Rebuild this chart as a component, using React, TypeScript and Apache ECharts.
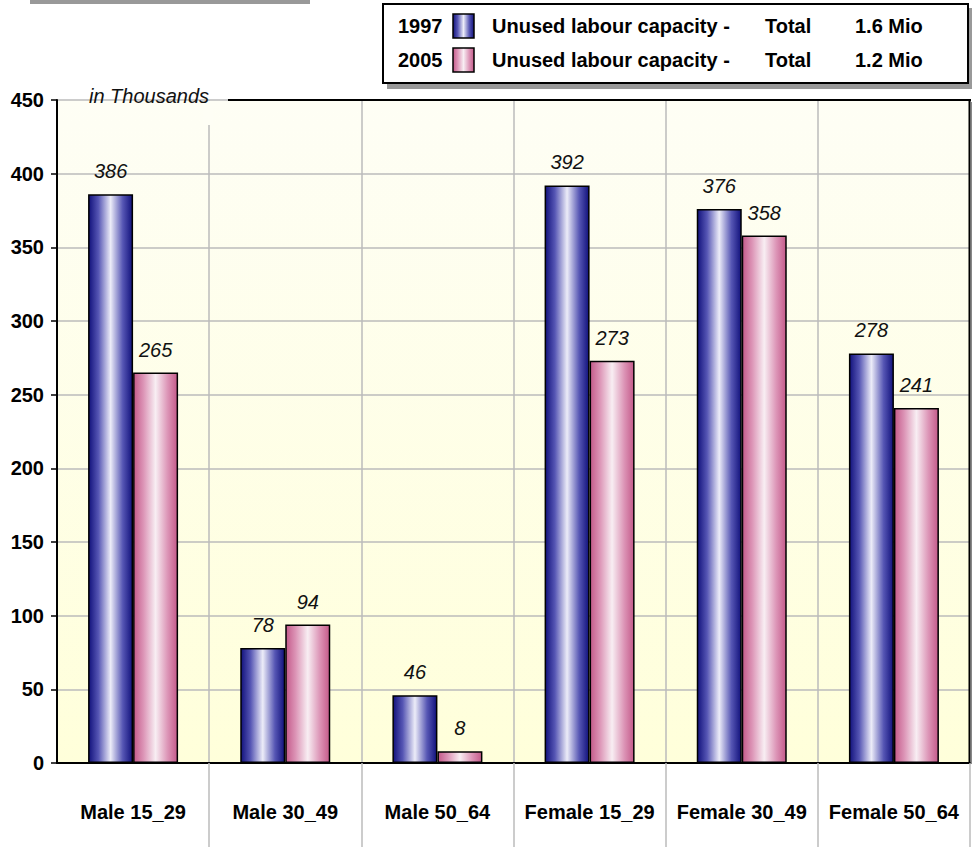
import React, { useEffect, useRef } from "react";
import * as echarts from "echarts";

const categories = ["Male 15_29", "Male 30_49", "Male 50_64", "Female 15_29", "Female 30_49", "Female 50_64"];
const values1997 = [386, 78, 46, 392, 376, 278];
const values2005 = [265, 94, 8, 273, 358, 241];
const legendYears = ["1997", "2005"];
const legendTotals = ["1.6 Mio", "1.2 Mio"];
const legendText = "Unused labour capacity -";
const yMin = 0;
const yMax = 450;
const yInterval = 50;
const unitLabel = "in Thousands";

const FONT = "'Liberation Sans', Arial, sans-serif";

const blueGrad = () =>
  new echarts.graphic.LinearGradient(0, 0, 1, 0, [
    { offset: 0, color: "#12127c" },
    { offset: 0.22, color: "#5656b4" },
    { offset: 0.5, color: "#ececf8" },
    { offset: 0.78, color: "#5656b4" },
    { offset: 1, color: "#12127c" },
  ]);
const pinkGrad = () =>
  new echarts.graphic.LinearGradient(0, 0, 1, 0, [
    { offset: 0, color: "#c45a8a" },
    { offset: 0.22, color: "#dc94b6" },
    { offset: 0.5, color: "#f8eef3" },
    { offset: 0.78, color: "#dc94b6" },
    { offset: 1, color: "#c45a8a" },
  ]);

export default function App() {
  const ref = useRef<HTMLDivElement>(null);
  useEffect(() => {
    document.body.style.margin = "0";
    const chart = echarts.init(ref.current!, null, { renderer: "svg" });
    const labelStyle = {
      show: true,
      position: "top" as const,
      distance: 13,
      fontFamily: FONT,
      fontStyle: "italic" as const,
      fontSize: 20,
      color: "#111",
    };
    const legendFont = `bold 20px ${FONT}`;
    const legendGraphics: any[] = [
      { type: "rect", shape: { x: 387, y: 8, width: 585, height: 81 }, style: { fill: "#999" }, z: 1 },
      { type: "rect", shape: { x: 383, y: 4, width: 585, height: 79 }, style: { fill: "#fff", stroke: "#000", lineWidth: 2 }, z: 2 },
    ];
    legendYears.forEach((yr, i) => {
      const cy = 26 + i * 34;
      legendGraphics.push(
        { type: "text", x: 398, y: cy, style: { text: yr, font: legendFont, fill: "#000", textVerticalAlign: "middle" }, z: 3 },
        { type: "rect", shape: { x: 453, y: cy - 12, width: 21, height: 24 }, style: { fill: i === 0 ? blueGrad() : pinkGrad(), stroke: "#000", lineWidth: 1.5 }, z: 3 },
        { type: "text", x: 492, y: cy, style: { text: legendText, font: legendFont, fill: "#000", textVerticalAlign: "middle" }, z: 3 },
        { type: "text", x: 765, y: cy, style: { text: "Total", font: legendFont, fill: "#000", textVerticalAlign: "middle" }, z: 3 },
        { type: "text", x: 855, y: cy, style: { text: legendTotals[i], font: legendFont, fill: "#000", textVerticalAlign: "middle" }, z: 3 }
      );
    });
    chart.setOption({
      animation: false,
      backgroundColor: "#fff",
      grid: {
        left: 57,
        right: 2,
        top: 100,
        bottom: 84,
        show: true,
        borderWidth: 0,
        backgroundColor: new echarts.graphic.LinearGradient(0, 0, 0, 1, [
          { offset: 0, color: "#fefef5" },
          { offset: 1, color: "#ffffda" },
        ]),
      },
      xAxis: {
        type: "category",
        data: categories,
        boundaryGap: true,
        axisLine: { show: true, lineStyle: { color: "#000", width: 2 } },
        axisTick: {
          show: true,
          length: 84,
          interval: (index: number) => index !== 0,
          lineStyle: { color: "#bbb", width: 1.5 },
        },
        axisLabel: {
          interval: 0,
          margin: 39,
          fontFamily: FONT,
          fontWeight: "bold",
          fontSize: 20,
          color: "#000",
        },
        splitLine: { show: true, lineStyle: { color: "#bbb", width: 1.5 } },
        z: 5,
      },
      yAxis: {
        type: "value",
        min: yMin,
        max: yMax,
        interval: yInterval,
        axisLine: { show: true, lineStyle: { color: "#000", width: 2 } },
        axisTick: { show: true, length: 6, lineStyle: { color: "#000", width: 1.5 } },
        axisLabel: {
          margin: 13,
          fontFamily: FONT,
          fontWeight: "bold",
          fontSize: 20,
          color: "#000",
        },
        splitLine: { show: true, lineStyle: { color: "#bbb", width: 1.5 } },
        z: 5,
      },
      series: [
        {
          name: legendYears[0],
          type: "bar",
          data: values1997,
          barWidth: 45,
          barGap: "0%",
          itemStyle: { color: blueGrad(), borderColor: "#000", borderWidth: 1.5 },
          label: labelStyle,
          z: 6,
        },
        {
          name: legendYears[1],
          type: "bar",
          data: values2005,
          barWidth: 45,
          barGap: "0%",
          itemStyle: { color: pinkGrad(), borderColor: "#000", borderWidth: 1.5 },
          label: labelStyle,
          z: 6,
        },
      ],
      graphic: [
        { type: "rect", shape: { x: 30, y: 0, width: 280, height: 4 }, style: { fill: "#999" } },
        ...legendGraphics,
        { type: "rect", shape: { x: 203, y: 101, width: 10, height: 24 }, style: { fill: "#fefef5" }, z: 10 },
        { type: "line", shape: { x1: 228, y1: 100, x2: 971, y2: 100 }, style: { stroke: "#000", lineWidth: 2 }, z: 10 },
        { type: "line", shape: { x1: 969.5, y1: 100, x2: 969.5, y2: 763 }, style: { stroke: "#000", lineWidth: 2 }, z: 10 },
        { type: "line", shape: { x1: 971.5, y1: 102, x2: 971.5, y2: 764 }, style: { stroke: "#888", lineWidth: 1.5 }, z: 10 },
        { type: "text", x: 89, y: 96, style: { text: unitLabel, font: `italic 20px ${FONT}`, fill: "#111", textVerticalAlign: "middle" }, z: 10 },
      ],
    });
    return () => chart.dispose();
  }, []);
  return <div ref={ref} style={{ position: "absolute", left: 0, top: 0, width: 972, height: 847 }} />;
}
